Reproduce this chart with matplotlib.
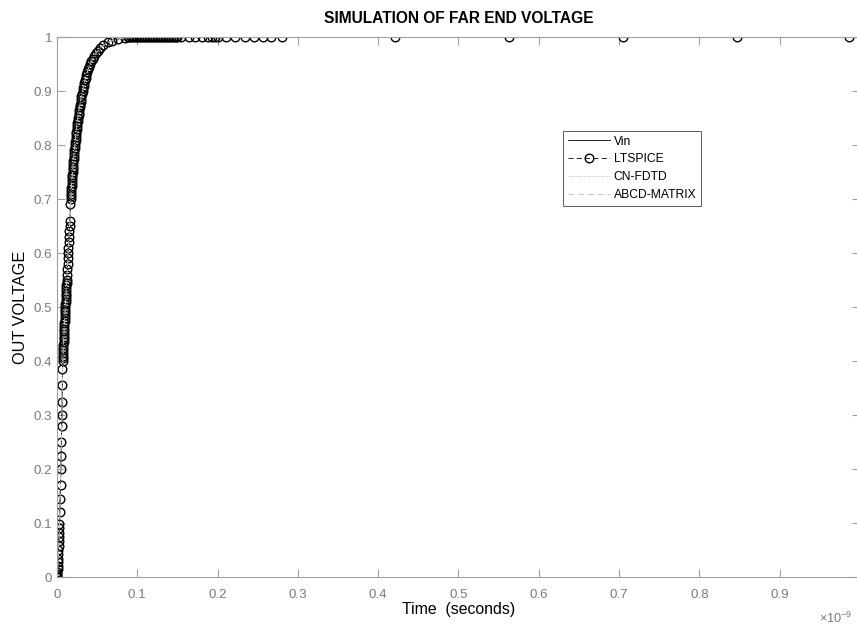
import numpy as np
import matplotlib
matplotlib.use("Agg")
import matplotlib.pyplot as plt

plt.rcParams["font.family"] = ["Liberation Sans", "DejaVu Sans"]
plt.rcParams["mathtext.fontset"] = "custom"
plt.rcParams["mathtext.rm"] = "Liberation Sans"

# LTSPICE samples (time in ns, voltage)
lt_t = [0, 0.0002, 0.0004, 0.0006, 0.0008, 0.0010, 0.0012, 0.0014, 0.0016, 0.0018,
        0.0020, 0.0022, 0.0024, 0.0026, 0.0028, 0.0030, 0.0034, 0.0039, 0.0044, 0.0049,
        0.0053, 0.0056, 0.0059, 0.0062, 0.0064, 0.0066, 0.0068, 0.0070, 0.0072, 0.0073,
        0.0075, 0.0076, 0.0078, 0.0079, 0.0081, 0.0082, 0.0084, 0.0086, 0.0087, 0.0089,
        0.0090, 0.0092, 0.0094, 0.0095, 0.0097, 0.0099, 0.0100, 0.0102, 0.0104, 0.0106,
        0.0107, 0.0109, 0.0111, 0.0113, 0.0115, 0.0117, 0.0119, 0.0121, 0.0125, 0.0128,
        0.0131, 0.0135, 0.0138, 0.0142, 0.0146, 0.0150, 0.0154, 0.0158, 0.0162, 0.0165,
        0.0169, 0.0171, 0.0173, 0.0176, 0.0178, 0.0181, 0.0183, 0.0186, 0.0188, 0.0191,
        0.0194, 0.0196, 0.0199, 0.0202, 0.0205, 0.0208, 0.0211, 0.0214, 0.0217, 0.0221,
        0.0224, 0.0227, 0.0231, 0.0234, 0.0238, 0.0242, 0.0246, 0.0250, 0.0254, 0.0259,
        0.0263, 0.0268, 0.0272, 0.0277, 0.0282, 0.0288, 0.0293, 0.0299, 0.0305, 0.0312,
        0.0318, 0.0325, 0.0332, 0.0340, 0.0349, 0.0357, 0.0367, 0.0377, 0.0388, 0.0399,
        0.0412, 0.0427, 0.0443, 0.0461, 0.0482, 0.0507, 0.0537, 0.0576, 0.0631, 0.0680,
        0.0756, 0.0850,
        0.0880, 0.0900, 0.0920, 0.0940, 0.0960, 0.0980, 0.1000, 0.1020, 0.1040, 0.1060,
        0.1080, 0.1100, 0.1120, 0.1140, 0.1160, 0.1180, 0.1200, 0.1220, 0.1240, 0.1260,
        0.1280, 0.1300, 0.1320, 0.1340, 0.1360, 0.1380, 0.1400, 0.1420, 0.1440, 0.1460,
        0.1480, 0.1500, 0.1550, 0.1650, 0.1720, 0.1800, 0.1880, 0.1930, 0.1970, 0.2000,
        0.2110, 0.2220, 0.2340, 0.2450, 0.2560, 0.2670, 0.2800, 0.4210, 0.5630, 0.7050,
        0.8470, 0.9860]
lt_v = [0, 0.002, 0.005, 0.009, 0.014, 0.020, 0.027, 0.034, 0.042, 0.050,
        0.058, 0.066, 0.074, 0.082, 0.090, 0.098, 0.120, 0.145, 0.170, 0.200,
        0.225, 0.250, 0.280, 0.300, 0.325, 0.355, 0.385, 0.400, 0.405, 0.410,
        0.415, 0.420, 0.425, 0.430, 0.435, 0.440, 0.445, 0.450, 0.455, 0.460,
        0.465, 0.470, 0.475, 0.480, 0.485, 0.490, 0.495, 0.500, 0.505, 0.510,
        0.515, 0.520, 0.525, 0.530, 0.535, 0.540, 0.545, 0.550, 0.560, 0.570,
        0.580, 0.590, 0.600, 0.610, 0.620, 0.630, 0.640, 0.650, 0.660, 0.690,
        0.700, 0.705, 0.710, 0.715, 0.720, 0.725, 0.730, 0.735, 0.740, 0.745,
        0.750, 0.755, 0.760, 0.765, 0.770, 0.775, 0.780, 0.785, 0.790, 0.795,
        0.800, 0.805, 0.810, 0.815, 0.820, 0.825, 0.830, 0.835, 0.840, 0.845,
        0.850, 0.855, 0.860, 0.865, 0.870, 0.875, 0.880, 0.885, 0.890, 0.895,
        0.900, 0.905, 0.910, 0.915, 0.920, 0.925, 0.930, 0.935, 0.940, 0.945,
        0.950, 0.955, 0.960, 0.965, 0.970, 0.975, 0.980, 0.985, 0.990, 0.993,
        0.996, 0.998,
        1.0, 1.0, 1.0, 1.0, 1.0, 1.0, 1.0, 1.0, 1.0, 1.0,
        1.0, 1.0, 1.0, 1.0, 1.0, 1.0, 1.0, 1.0, 1.0, 1.0,
        1.0, 1.0, 1.0, 1.0, 1.0, 1.0, 1.0, 1.0, 1.0, 1.0,
        1.0, 1.0, 1.0, 1.0, 1.0, 1.0, 1.0, 1.0, 1.0, 1.0,
        1.0, 1.0, 1.0, 1.0, 1.0, 1.0, 1.0, 1.0, 1.0, 1.0,
        1.0, 1.0]

# Vin / CN-FDTD / ABCD-MATRIX (they lie on top of each other)
sim_t = [0, 0.001, 0.002, 0.003, 0.004, 0.005, 0.006, 0.007, 0.008, 0.010,
         0.012, 0.014, 0.016, 0.018, 0.020, 0.022, 0.025, 0.028, 0.032, 0.036,
         0.041, 0.048, 0.054, 0.063, 0.075, 0.085, 0.100, 0.200, 0.280]
sim_v = [0, 0.02, 0.05, 0.09, 0.15, 0.22, 0.29, 0.39, 0.43, 0.49,
         0.545, 0.605, 0.66, 0.725, 0.762, 0.796, 0.84, 0.872, 0.901, 0.928,
         0.95, 0.97, 0.98, 0.99, 0.996, 0.998, 1.0, 1.0, 1.0]

xticks = [0, 0.1, 0.2, 0.3, 0.4, 0.5, 0.6, 0.7, 0.8, 0.9]
yticks = [0, 0.1, 0.2, 0.3, 0.4, 0.5, 0.6, 0.7, 0.8, 0.9, 1]

fig = plt.figure(figsize=(8.57, 6.25), dpi=100)
ax = fig.add_axes([57 / 857, 48 / 625, 803 / 857, 540 / 625])

ts = np.array(sim_t) * 1e-9
ax.plot(ts, sim_v, color="black", lw=0.6, label="Vin")
ax.plot(np.array(lt_t) * 1e-9, lt_v, color="black", ls=(0, (6, 4)), lw=0.6,
        marker="o", ms=6.2, mfc="none", mec="black", mew=1.0, label="LTSPICE")
ax.plot(ts, sim_v, color="#b8b8b8", ls=":", lw=0.7, label="CN-FDTD")
ax.plot(ts, sim_v, color="#c4c4c4", ls=(0, (6, 4)), lw=0.7, label="ABCD-MATRIX")

ax.set_xlim(0, 1e-9)
ax.set_ylim(0, 1)
ax.set_xticks(np.array(xticks) * 1e-9)
ax.set_xticklabels([f"{v:g}" for v in xticks])
ax.set_yticks(yticks)
ax.set_yticklabels([f"{v:g}" for v in yticks])

gray = "#a0a0a0"
for s in ax.spines.values():
    s.set_color(gray)
    s.set_linewidth(0.8)
ax.tick_params(direction="in", length=5.5, width=0.8, color=gray,
               labelcolor="#7a7a7a", labelsize=9.6, top=True, right=True)
ax.tick_params(axis="x", pad=8.5)
ax.tick_params(axis="y", pad=3.5)

ax.set_title("SIMULATION OF FAR END VOLTAGE", fontsize=11.2, fontweight="bold", pad=10)
ax.set_xlabel("Time  (seconds)", fontsize=11.4, labelpad=1)
ax.set_ylabel("OUT VOLTAGE", fontsize=11.7, labelpad=4)

leg = ax.legend(loc="upper left", bbox_to_anchor=(0.630, 0.8265), fontsize=8.7,
                frameon=True, fancybox=False, edgecolor="#333333",
                handlelength=3.5, handletextpad=0.3, borderpad=0.4,
                labelspacing=0.48, borderaxespad=0)
leg.get_frame().set_linewidth(0.7)

fig.text(0.995, 1 - 618 / 625, r"$\times10^{-9}$", fontsize=9.2, color="#7a7a7a",
         ha="right", va="center")

fig.savefig("out.png", dpi=100)
